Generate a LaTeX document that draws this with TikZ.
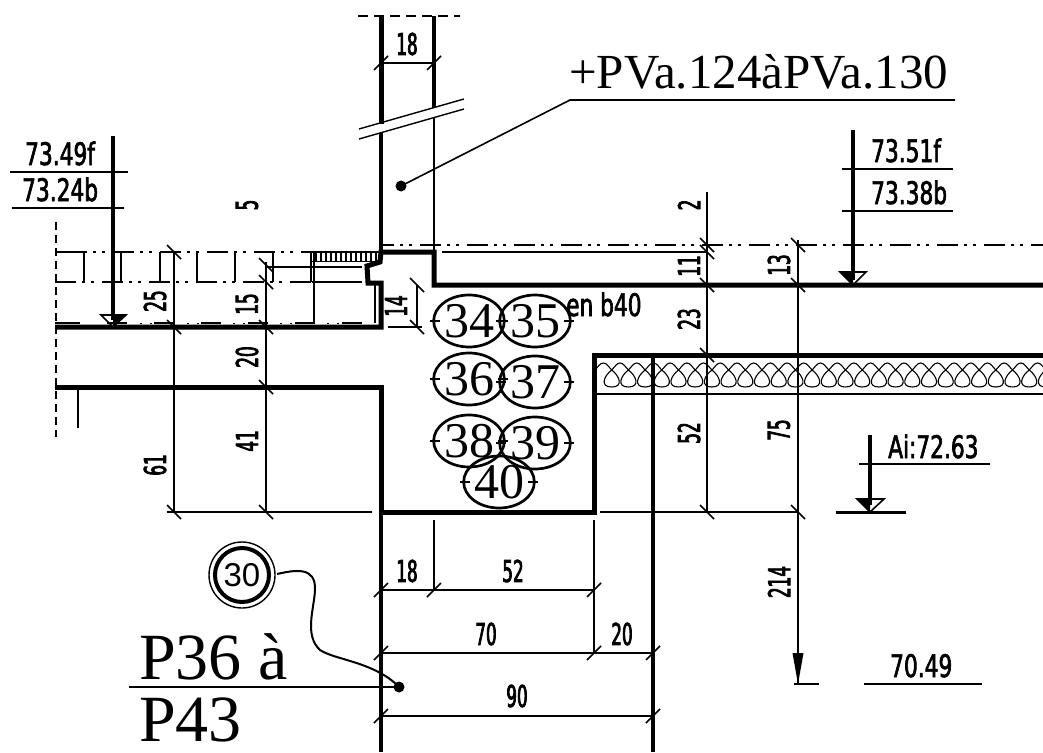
\documentclass[tikz,border=0pt]{standalone}
\usepackage{fontspec}
\setmainfont{Liberation Serif}
\newfontfamily\dimfont[FakeStretch=0.56,FakeBold=2.5]{DejaVu Sans}
\newfontfamily\lvlfont[FakeStretch=0.70,FakeBold=2]{DejaVu Sans}
\newfontfamily\plainsans{Liberation Sans}
\usetikzlibrary{shapes.geometric}
\tikzset{
 thickw/.style={line width=5pt,line join=miter},
 midw/.style={line width=3.6pt},
 thinw/.style={line width=1.4pt},
 lvlline/.style={line width=2.4pt},
 tickw/.style={line width=1.7pt},
 dimlab/.style={font=\dimfont\fontsize{30}{30}\selectfont,inner sep=0pt},
 lvllab/.style={font=\lvlfont\fontsize{31}{31}\selectfont,inner sep=0pt,anchor=base west},
 bubble/.style={draw,line width=2.7pt,ellipse,minimum width=58pt,minimum height=52pt,inner sep=0pt,font=\fontsize{50}{50}\selectfont},
 dashdot/.style={line width=2.9pt,dash pattern=on 21pt off 6pt on 3pt off 6pt on 3pt off 8pt},
}
\newcommand\tkb[2]{\draw[tickw] (#1-7,#2-7) -- (#1+7,#2+7);}
\newcommand\tkf[2]{\draw[tickw] (#1-7,#2+7) -- (#1+7,#2-7);}
\newcommand\bub[4]{%
 \node[bubble] (#1) at (#2,#3) {#4};
 \draw[line width=2.7pt] (#2-39,#3) -- (#2-29,#3) (#2+29,#3) -- (#2+39,#3);}
\begin{document}
\begin{tikzpicture}[x=1pt,y=-1pt]
\useasboundingbox (0,0) rectangle (1043,752);
% upper wall
\draw[line width=1.5pt,dash pattern=on 10pt off 6pt] (358,16) -- (460,16);
\draw[thickw] (381,16) -- (381,124);
\draw[midw] (434,16) -- (434,108);
\draw[midw] (381,133) -- (381,252);
\draw[line width=2.5pt] (434,117) -- (434,252);
\draw[thinw] (359,129) -- (464,99) (359,139) -- (464,109);
\draw[thinw] (381,63) -- (434,63);
\tkf{381}{63}\tkf{434}{63}
\node[dimlab] (d18a) at (407,44) {18};
% leader top
\fill (401,186) circle (5.5pt);
\draw[line width=1.6pt] (401,186) -- (570,100) -- (955,100);
\node[font=\fontsize{49}{49}\selectfont,inner sep=0pt,anchor=base west] (pva) at (569,88) {+PVa.124àPVa.130};
% left level
\draw[lvlline] (10,172) -- (128,172) (12,208) -- (124,208);
\draw[midw] (113,136) -- (113,320);
\node[lvllab] (l1) at (25,165) {73.49f};
\node[lvllab] (l2) at (22,201) {73.24b};
\draw[line width=1.6pt] (101,315) -- (126,315) -- (113,327) -- cycle;
\fill (113,315) -- (126,315) -- (113,327) -- cycle;
% right level
\draw[midw] (853,130) -- (853,280);
\draw[lvlline] (842,169) -- (953,169) (842,211) -- (953,211);
\node[lvllab] (r1) at (871,162) {73.51f};
\node[lvllab] (r2) at (871,204) {73.38b};
\draw[line width=1.6pt] (840,272) -- (866,272) -- (853,285) -- cycle;
\fill (840,272) -- (853,272) -- (853,285) -- cycle;
% dash-dot lines
\draw[dashdot,dash phase=8pt] (381,245) -- (1043,245);
\draw[line width=2.9pt] (55,252) -- (66,252);
\draw[dashdot] (66,252) -- (312,252);
\draw[dashdot] (55,282) -- (312,282);
\draw[line width=2.9pt] (55,323) -- (62,323);
\draw[line width=2.9pt,dash pattern=on 20pt off 27pt] (60,323) -- (375,323);
\draw[line width=1pt,dash pattern=on 2pt off 8pt] (140,323) -- (155,323) (187,323) -- (202,323) (233,323) -- (248,323) (280,323) -- (295,323) (327,323) -- (345,323);
% small verticals in the slab
\foreach \xx in {84,121,160,197,235,273}{\draw[line width=1.4pt] (\xx,252) -- (\xx,282);}
\draw[line width=1.4pt] (311,252) -- (311,282);
\draw[line width=1.4pt] (314,252) -- (314,323);
\draw[line width=1.4pt] (266,267) -- (362,267) (312,282) -- (362,282);
% hatch
\draw[line width=2.4pt] (302,252) -- (381,252);
\draw[line width=1pt] (312,261) -- (378,261);
\foreach \i in {0,...,12}{\draw[line width=2pt] (316+\i*5,252) -- (316+\i*5,261);}
% thick outline
\draw[thickw] (55,327) -- (381,327) -- (381,283) -- (368,283) -- (367,266) -- (380,262) -- (381,252) -- (434,252) -- (434,285) -- (1043,285);
\draw[line width=2.6pt] (375,283) -- (375,323);
\draw[thickw] (55,387) -- (381,387) -- (381,512) -- (594,512) -- (594,355) -- (1043,355);
% lower walls
\draw[midw] (381,512) -- (381,752);
\draw[midw] (653,355) -- (653,752);
% left dashed
\draw[line width=1.4pt,dash pattern=on 8pt off 5pt] (56,222) -- (56,437);
\draw[thinw] (78,387) -- (78,428);
% insulation
\draw[thinw] (596,394) -- (1043,394);
\begin{scope}
\clip (597,361) rectangle (1043,390);
\foreach \i in {0,...,27}{
 \pgfmathsetmacro\xc{595+16.7*\i}
 \draw[line width=1.1pt] (\xc,387) .. controls (\xc-12,387) and (\xc-8,376) .. (\xc,370) .. controls (\xc+3,367) and (\xc+5,363) .. (\xc+8.35,363) .. controls (\xc+11.7,363) and (\xc+13.7,367) .. (\xc+16.7,370) .. controls (\xc+24.7,376) and (\xc+28.7,387) .. (\xc+16.7,387);
}
\end{scope}
% dims left
\draw[thinw] (174,252) -- (174,512) (266,262) -- (266,512) (167,512) -- (372,512);
\tkb{174}{252}\tkb{174}{327}\tkb{174}{512}
\tkb{266}{265}\tkb{266}{282}\tkb{266}{327}\tkb{266}{387}\tkb{266}{512}
\node[dimlab,rotate=90] (d25) at (155,301) {25};
\node[dimlab,rotate=90] (d5) at (247,205) {5};
\node[dimlab,rotate=90] (d15) at (247,304) {15};
\node[dimlab,rotate=90] (d20) at (247,357) {20};
\node[dimlab,rotate=90] (d41) at (247,441) {41};
\node[dimlab,rotate=90] (d61) at (155,465) {61};
% 14
\draw[thinw] (417,285) -- (417,327) (388,327) -- (422,327);
\tkb{417}{285}\tkb{417}{327}
\node[dimlab,rotate=90] (d14) at (396,306) {14};
% bubbles
\bub{b34}{469}{321}{34}
\bub{b35}{535}{321}{35}
\bub{b36}{469}{379}{36}
\bub{b37}{535}{382}{37}
\bub{b38}{469}{441}{38}
\bub{b39}{535}{443}{39}
\bub{b40}{499}{482}{40}
\node[lvllab] (enb) at (566,316) {en b40};
% dims right
\draw[thinw] (442,252) -- (707,252) (600,512) -- (798,512);
\draw[thinw] (707,192) -- (707,512) (798,240) -- (798,684);
\tkb{707}{245}\tkb{707}{252}\tkb{707}{285}\tkb{707}{355}\tkb{707}{512}
\tkb{798}{245}\tkb{798}{285}\tkb{798}{512}
\node[dimlab,rotate=90] (d2) at (689,205) {2};
\node[dimlab,rotate=90] (d11) at (689,266) {11};
\node[dimlab,rotate=90] (d23) at (689,319) {23};
\node[dimlab,rotate=90] (d52) at (689,433) {52};
\node[dimlab,rotate=90] (d13) at (779,265) {13};
\node[dimlab,rotate=90] (d75) at (779,430) {75};
\node[dimlab,rotate=90] (d214) at (779,582) {214};
\fill (792.5,653) -- (803.5,653) -- (798,684) -- cycle;
\draw[thinw] (794,684) -- (819,684);
% Ai
\draw[midw] (870,435) -- (870,505);
\draw[lvlline] (859,464) -- (990,464);
\node[lvllab] (ai) at (888,458) {Ai:72.63};
\draw[line width=1.6pt] (857,499) -- (884,499) -- (870,512) -- cycle;
\fill (857,499) -- (870,499) -- (870,512) -- cycle;
\draw[line width=3pt] (836,512) -- (906,512);
% 70.49
\node[lvllab] (lv) at (890,677) {70.49};
\draw[lvlline] (864,684) -- (982,684);
% bottom dims
\draw[thinw] (434,520) -- (434,590) (594,520) -- (594,653);
\draw[thinw] (381,590) -- (594,590) (381,653) -- (653,653) (381,716) -- (653,716);
\tkf{381}{590}\tkf{434}{590}\tkf{594}{590}
\tkf{381}{653}\tkf{594}{653}\tkf{653}{653}
\tkf{381}{716}\tkf{653}{716}
\node[dimlab] (b18) at (407,571) {18};
\node[dimlab] (b52) at (513,571) {52};
\node[dimlab] (b70) at (486,634) {70};
\node[dimlab] (b20) at (622,634) {20};
\node[dimlab] (b90) at (517,696) {90};
% bubble 30
\draw[thinw] (242,575) circle (33pt);
\node[draw,circle,line width=4pt,minimum size=54pt,inner sep=0pt,font=\plainsans\fontsize{33}{33}\selectfont] (c30) at (242,575) {30};
\fill (399,687) circle (5.5pt);
\draw[line width=2pt] (277,574) .. controls (295,570) and (316,566) .. (315,590) .. controls (314,610) and (304,635) .. (320,650) .. controls (335,660) and (375,662) .. (399,687);
% P36
\draw[line width=1.5pt] (129,687) -- (399,687);
\node[font=\fontsize{66}{66}\selectfont,inner sep=0pt,anchor=base west] (p36) at (139,679) {P36 à};
\node[font=\fontsize{66}{66}\selectfont,inner sep=0pt,anchor=base west] (p43) at (139,741) {P43};
\end{tikzpicture}
\end{document}
